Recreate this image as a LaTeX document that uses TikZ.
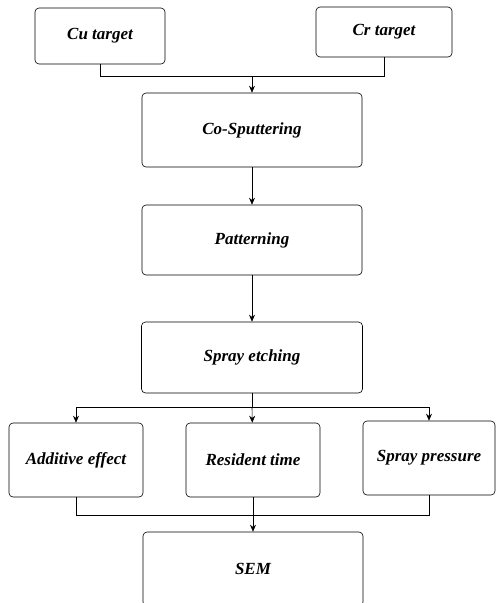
\documentclass[tikz,border=0pt]{standalone}
\usepackage{fontspec}
\setmainfont{Liberation Serif}
\usetikzlibrary{arrows.meta}

\begin{document}
\begin{tikzpicture}[->,>={Stealth[length=7pt,width=6pt]},x=1pt,y=-1pt,semithick,proc node/.style={draw,rounded corners=4pt,font=\fontsize{17}{20}\selectfont\bfseries\itshape,inner sep=0pt}]

            \useasboundingbox (0,0) rectangle (496,603);

            \node[proc node,minimum width=130pt,minimum height=56pt] (cu) at (100,36) {Cu target};
            \node[proc node,minimum width=136pt,minimum height=50pt] (cr) at (384,32) {Cr target};
            \node[proc node,minimum width=220pt,minimum height=74pt] (cosp) at (252,130) {Co-Sputtering};
            \node[proc node,minimum width=220pt,minimum height=70pt] (pat) at (252,240) {Patterning};
            \node[proc node,minimum width=221pt,minimum height=71pt] (etch) at (252,357.5) {Spray etching};
            \node[proc node,minimum width=134pt,minimum height=74pt] (add) at (76,460) {Additive effect};
            \node[proc node,minimum width=134pt,minimum height=74pt] (res) at (253,460) {Resident time};
            \node[proc node,minimum width=132pt,minimum height=74pt] (pres) at (429,458) {Spray pressure};
            \node[proc node,minimum width=220pt,minimum height=74pt] (sem) at (253,569) {SEM};

            \coordinate (top join) at (252,76);
            \coordinate (etch join) at (252,407);
            \coordinate (sem join) at (253,515);

            \draw[-] (cu.south) |- (top join);
            \draw[-] (cr.south) |- (top join);
            \draw[-] (etch.south) -- (etch join);
            \draw[-] (add.south) |- (sem join);
            \draw[-] (pres.south) |- (sem join);
            \draw[-] (res.south) -- (sem join);

            \path
                (top join) edge (cosp)
                (cosp) edge (pat)
                (pat) edge (etch)
                (etch join) edge (res)
                (sem join) edge (sem.north)
            ;
            \draw (etch join) -| (add.north);
            \draw (etch join) -| (pres.north);
        \end{tikzpicture}
\end{document}
